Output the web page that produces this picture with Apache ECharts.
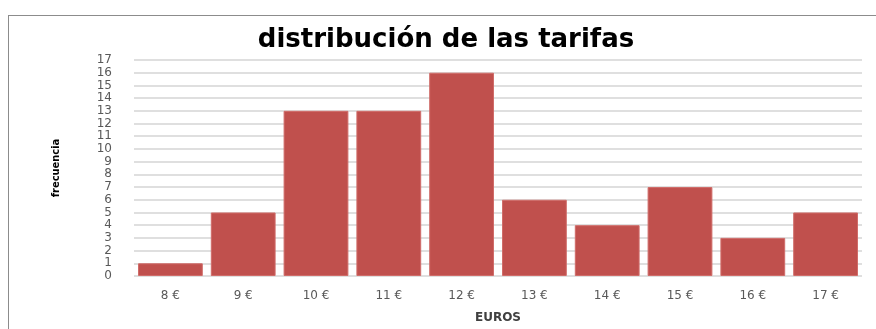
<!DOCTYPE html>
<html><head><meta charset="utf-8">
<script src="https://cdn.jsdelivr.net/npm/echarts@6/dist/echarts.min.js"></script>
<style>html,body{margin:0;padding:0;background:#fff}#c{width:876px;height:329px}
#frame{position:absolute;left:8px;top:15px;width:900px;height:400px;border:1.5px solid #8c8c8c;box-sizing:border-box;pointer-events:none}</style>
</head><body>
<div id="c"></div><div id="frame"></div>
<script>
const categories = ['8 €','9 €','10 €','11 €','12 €','13 €','14 €','15 €','16 €','17 €'];
const frecuencia = [1,5,13,13,16,6,4,7,3,5];
const yTicks = {min:0,max:17,interval:1};
const chart = echarts.init(document.getElementById('c'));
chart.setOption({
  animation:false,
  title:{text:'distribución de las tarifas',left:441,top:22,textAlign:'center',
    textStyle:{fontFamily:'DejaVu Sans',fontWeight:'bold',fontSize:26,color:'#000'}},
  grid:{left:134,right:14,top:60,bottom:52},
  xAxis:{type:'category',data:categories,name:'EUROS',nameLocation:'middle',nameGap:36,
    nameTextStyle:{fontFamily:'DejaVu Sans',fontWeight:'bold',fontSize:12,color:'#404040'},
    axisLine:{show:false},axisTick:{show:false},
    axisLabel:{fontFamily:'DejaVu Sans',fontSize:12,color:'#595959',margin:14}},
  yAxis:{type:'value',min:yTicks.min,max:yTicks.max,interval:yTicks.interval,
    name:'frecuencia',nameLocation:'middle',nameGap:72,nameRotate:90,
    nameTextStyle:{fontFamily:'DejaVu Sans Condensed, DejaVu Sans',fontWeight:'bold',fontSize:11,color:'#000'},
    axisLabel:{fontFamily:'DejaVu Sans',fontSize:12,color:'#595959',margin:22},
    splitLine:{lineStyle:{color:'#d4d4d4',width:1.5}}},
  series:[{type:'bar',data:frecuencia,barCategoryGap:'11%',
    itemStyle:{color:'#c0504d',borderColor:'#d06c69',borderWidth:1}}]
});
</script></body></html>
